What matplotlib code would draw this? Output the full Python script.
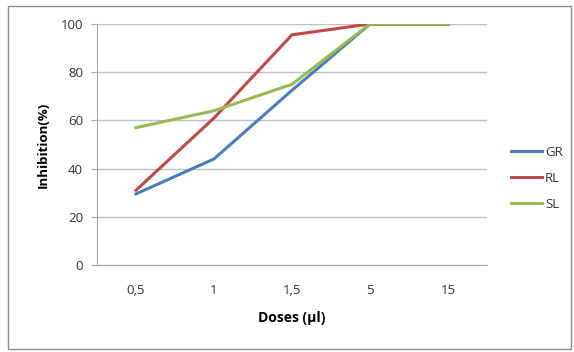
import matplotlib
matplotlib.use("Agg")
import matplotlib.pyplot as plt
from matplotlib.patches import Rectangle

doses = ["0,5", "1", "1,5", "5", "15"]
gr = [29.5, 44, 72.5, 100, 100]
rl = [31, 61, 95.5, 100, 100]
sl = [57, 64, 75, 100, 100]
yticks = [0, 20, 40, 60, 80, 100]

plt.rcParams['font.family'] = ['Open Sans', 'DejaVu Sans']

fig = plt.figure(figsize=(5.74, 3.52), dpi=100)
fig.patches.append(Rectangle((8/574, 1-349/352), 563/574, 343/352, transform=fig.transFigure,
                             fill=False, edgecolor='#8c8c8c', linewidth=1.0))
ax = fig.add_axes([97/574, 1-265/352, 390/574, 241/352])

x = list(range(len(doses)))
ax.plot(x, gr, color='#4A7EBB', linewidth=2.2, label='GR')
ax.plot(x, rl, color='#BE4B48', linewidth=2.2, label='RL')
ax.plot(x, sl, color='#98B954', linewidth=2.2, label='SL')

ax.set_xlim(-0.5, 4.5)
ax.set_ylim(0, 100)
ax.set_yticks(yticks)
ax.set_xticks(x)
ax.set_xticklabels(doses)
ax.grid(axis='y', color='#bfbfbf', linewidth=1)
ax.set_axisbelow(True)
for s in ['top', 'right']:
    ax.spines[s].set_visible(False)
ax.spines['left'].set_color('#a6a6a6')
ax.spines['bottom'].set_color('#a6a6a6')
ax.tick_params(axis='y', length=4, color='#a6a6a6', labelsize=9.5, labelcolor='#333333', pad=6)
ax.tick_params(axis='x', length=0, labelsize=9.5, labelcolor='#333333', pad=14)
ax.set_xlabel('Doses (µl)', fontweight='bold', fontsize=10, labelpad=10)
ax.set_ylabel('Inhibition(%)', fontweight='bold', fontsize=9.5, labelpad=8)

leg = ax.legend(loc='center left', bbox_to_anchor=(1.03, 0.36), frameon=False, fontsize=9.5,
                handlelength=2.4, handletextpad=0.2, labelspacing=1.0)
for t in leg.get_texts():
    t.set_color('#333333')

fig.savefig('out.png', dpi=100)
